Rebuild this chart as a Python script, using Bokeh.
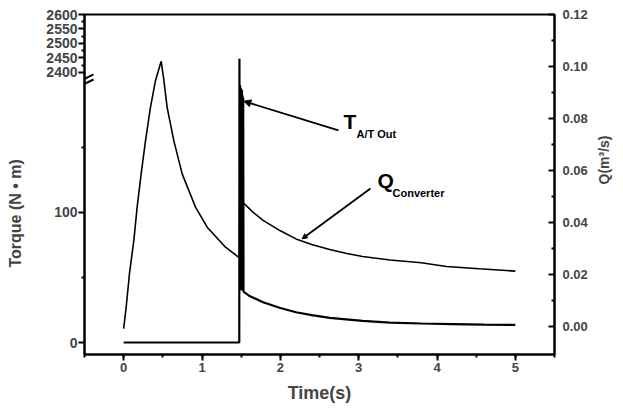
import numpy as np
from bokeh.plotting import figure
from bokeh.models import (Range1d, LinearAxis, FixedTicker, SingleIntervalTicker,
                          Label, Arrow, NormalHead, PrintfTickFormatter)
from bokeh.embed import file_html
from bokeh.resources import INLINE

# ---- data ----
q_time = [0.0, 0.032, 0.074, 0.13, 0.172, 0.223, 0.279, 0.342, 0.406, 0.479, 0.51, 0.555,
          0.64, 0.747, 0.917, 1.066, 1.30, 1.478, 1.482, 1.52, 1.65, 1.78, 2.0, 2.2, 2.4,
          2.63, 2.85, 3.05, 3.4, 3.8, 4.12, 4.54, 5.0]
q_flow = [-0.0008, 0.0074, 0.0203, 0.0331, 0.0459, 0.0587, 0.0715, 0.0843, 0.0946, 0.1020,
          0.0955, 0.0843, 0.0715, 0.0587, 0.0459, 0.0382, 0.0305, 0.0264, 0.049, 0.0478,
          0.044, 0.0408, 0.0368, 0.0337, 0.0315, 0.0296, 0.0281, 0.0269, 0.0256, 0.0245,
          0.0231, 0.0222, 0.0213]

t_time = [0.0, 1.476, 1.478, 1.482, 1.486, 1.490, 1.494, 1.498, 1.502, 1.506, 1.510, 1.514,
          1.518, 1.522, 1.526, 1.530, 1.533, 1.6, 1.78, 2.0, 2.2, 2.4, 2.63, 3.05, 3.4, 3.8,
          4.2, 4.6, 5.0]
t_torque = [0, 0, 2447, 45, 198, 42, 196, 41, 195, 40, 194, 40, 190, 40, 188, 39, 39, 36, 31,
            26.5, 23.3, 21.0, 19.0, 16.6, 15.3, 14.6, 14.2, 13.8, 13.5]

torque_ticks_low = [0, 100]
torque_minor_low = [50, 150]
torque_ticks_high = [2400, 2450, 2500, 2550, 2600]
torque_minor_high = [2425, 2475, 2525, 2575]
q_ticks = [0.00, 0.02, 0.04, 0.06, 0.08, 0.10, 0.12]
q_minor = [0.01, 0.03, 0.05, 0.07, 0.09, 0.11]

# ---- broken torque axis: lower segment 0..200, upper segment 2380..2600 ----
UP_SLOPE = 0.223
def tv(T):
    xp = [-100, 200, 2380, 2700]
    fp = [-100, 200, 207.7 - 20 * UP_SLOPE, 207.7 + 300 * UP_SLOPE]
    return np.round(np.interp(T, xp, fp), 4)

v_top = float(tv(2600))
FONT = "Liberation Sans"

p = figure(width=623, height=410, frame_width=470, frame_height=340,
           output_backend="svg", toolbar_location=None,
           x_range=Range1d(-0.5, 5.5), y_range=Range1d(-9.23, v_top + 0.001),
           y_axis_location=None, min_border_left=84, min_border_right=69,
           min_border_top=14, min_border_bottom=56)
p.extra_y_ranges = {"q": Range1d(-0.01077, 0.12)}
p.grid.visible = False
p.outline_line_color = "black"
p.outline_line_width = 2
p.background_fill_color = "white"
p.border_fill_color = "white"

def style(ax, size, out=True):
    ax.major_label_text_font = FONT
    ax.major_label_text_font_style = "bold"
    ax.major_label_text_font_size = size
    ax.axis_line_width = 2
    ax.major_tick_line_width = 2
    ax.minor_tick_line_width = 2
    ax.axis_label_text_font = FONT
    ax.axis_label_text_font_style = "bold"
    if out:
        ax.major_tick_out, ax.major_tick_in = 6, 0
        ax.minor_tick_out, ax.minor_tick_in = 3, 0
    else:
        ax.major_tick_out, ax.major_tick_in = 0, 6
        ax.minor_tick_out, ax.minor_tick_in = 0, 3

# x axis
xa = p.xaxis[0]
xa.ticker = SingleIntervalTicker(interval=1, num_minor_ticks=2)
style(xa, "13px")
xa.major_label_standoff = 2
xa.axis_label = "Time(s)"
xa.axis_label_text_font_size = "18px"
xa.axis_label_standoff = 8

# left torque axis (broken)
major_vals = [float(tv(v)) for v in torque_ticks_low + torque_ticks_high]
minor_vals = [float(tv(v)) for v in torque_minor_low + torque_minor_high]
la = LinearAxis(ticker=FixedTicker(ticks=major_vals, minor_ticks=minor_vals))
la.major_label_overrides = {mv: str(lab) for mv, lab in
                            zip(major_vals, torque_ticks_low + torque_ticks_high)}
style(la, "14px")
la.major_label_standoff = 1
la.axis_label = "Torque (N \u2022 m)" + "\u00a0" * 13
la.axis_label_text_font_size = "16px"
la.axis_label_standoff = 19
p.add_layout(la, "left")

# right Q axis
ra = LinearAxis(y_range_name="q", ticker=FixedTicker(ticks=q_ticks, minor_ticks=q_minor),
                formatter=PrintfTickFormatter(format="%.2f"))
style(ra, "13px", out=False)
ra.major_label_standoff = 8
ra.axis_label = "Q(m³/s)"
ra.axis_label_text_font_size = "14px"
ra.axis_label_standoff = 13
ra.axis_label_orientation = np.pi / 2
ra.axis_label_text_align = "center"
p.add_layout(ra, "right")

# curves
p.line(q_time, q_flow, y_range_name="q", line_color="black", line_width=1.6)
p.line(t_time, tv(np.array(t_torque, dtype=float)), line_color="black", line_width=2.2)

# break marks on left axis
for v0, v1 in [(200.0, 206.2), (196.2, 202.3)]:
    p.add_layout(Arrow(end=None, x_start=-0.589, y_start=v0, x_end=-0.385, y_end=v1,
                       line_color="black", line_width=2))

# annotations
p.add_layout(Arrow(end=NormalHead(size=7, fill_color="black", line_color="black"),
                   x_start=2.742, y_start=163.1, x_end=1.5335, y_end=185.6,
                   line_color="black", line_width=1.8))
p.add_layout(Arrow(end=NormalHead(size=5, fill_color="black", line_color="black"),
                   x_start=3.151, y_start=118.5, x_end=2.279, y_end=79.8,
                   line_color="black", line_width=1.8))

def lab(x, y, text, size):
    p.add_layout(Label(x=x, y=y, text=text, text_font=FONT, text_font_style="bold",
                       text_font_size=size, text_color="black"))

lab(2.806, 160.8, "T", "21px")
lab(2.972, 155.4, "A/T Out", "11px")
lab(3.240, 115.4, "Q", "21px")
lab(3.432, 110.0, "Converter", "11px")

open("out.html", "w").write(file_html(p, INLINE))
